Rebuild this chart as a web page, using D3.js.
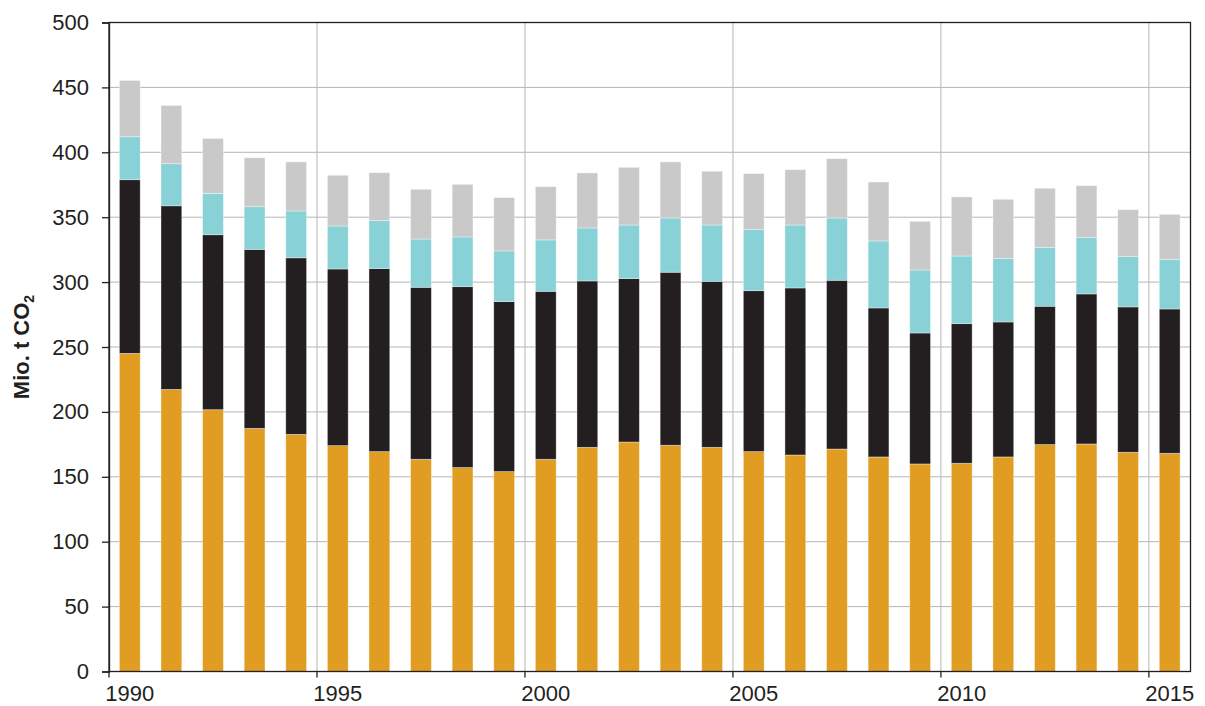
<!DOCTYPE html>
<html>
<head>
<meta charset="utf-8">
<script src="https://cdn.jsdelivr.net/npm/d3@7"></script>
<style>
  html, body { margin: 0; padding: 0; background: #fff; }
  svg { display: block; font-family: "Liberation Sans", Arial, Helvetica, sans-serif; }
</style>
</head>
<body>
<svg id="chart" width="1205" height="706"></svg>
<script>
// Data (Mio. t CO2), stacked bottom to top
const years = [1990,1991,1992,1993,1994,1995,1996,1997,1998,1999,2000,2001,2002,2003,2004,2005,2006,2007,2008,2009,2010,2011,2012,2013,2014,2015];
const seriesKeys = ["orange", "black", "cyan", "gray"];
const seriesOrange = [245.1,217.3,201.7,187.3,182.7,174.0,169.4,163.5,157.1,154.0,163.5,172.7,176.8,174.3,172.7,169.4,166.8,171.4,165.3,159.9,160.4,165.3,174.8,175.3,168.9,168.1];
const seriesBlack  = [133.8,141.5,134.8,137.9,136.0,136.1,141.0,132.5,139.4,131.0,129.4,128.2,125.9,133.3,127.9,124.0,128.7,130.0,114.8,100.9,107.6,104.0,106.6,115.6,112.0,111.2];
const seriesCyan   = [33.1,32.4,31.8,32.9,36.1,33.1,37.0,37.2,38.3,39.0,39.6,40.8,41.3,41.8,43.4,47.0,48.5,48.0,51.6,48.5,52.1,48.8,45.2,43.4,38.7,38.0];
const seriesGray   = [43.4,44.9,42.4,37.7,37.8,39.1,36.9,38.3,40.5,41.1,41.0,42.4,44.4,43.2,41.4,43.2,42.6,45.7,45.4,37.5,45.5,45.7,45.7,40.0,36.2,34.9];
const yTicks = [0,50,100,150,200,250,300,350,400,450,500];
const xTickYears = [1990,1995,2000,2005,2010,2015];

(function () {
const colors = { orange: "#e09d22", black: "#231f20", cyan: "#88d1d6", gray: "#c8c9c8" };

const table = years.map((yr, i) => ({
  year: yr, orange: seriesOrange[i], black: seriesBlack[i], cyan: seriesCyan[i], gray: seriesGray[i]
}));

const svg = d3.select("#chart");
const mLeft = 109, mRight = 1190.5, mTop = 22.5, mBottom = 671.5;

const x = d3.scaleBand().domain(years).range([mLeft, mRight]).paddingInner(0.5).paddingOuter(0.25);
const y = d3.scaleLinear().domain([0, 500]).range([mBottom, mTop]);
const cellLeft = yr => x(yr) - x.bandwidth() / 2;

const axisColor = "#231f20";
const gridColor = "#b5b5b5";

// horizontal grid
svg.append("g").selectAll("line").data(yTicks.filter(t => t > 0 && t < 500)).join("line")
  .attr("x1", mLeft).attr("x2", mRight)
  .attr("y1", d => y(d)).attr("y2", d => y(d))
  .attr("stroke", gridColor).attr("stroke-width", 1);

// vertical grid
svg.append("g").selectAll("line").data(xTickYears.filter(d => d !== 1990)).join("line")
  .attr("x1", d => cellLeft(d)).attr("x2", d => cellLeft(d))
  .attr("y1", mTop).attr("y2", mBottom)
  .attr("stroke", gridColor).attr("stroke-width", 1);

// stacked bars
const stack = d3.stack().keys(seriesKeys)(table);
svg.append("g").selectAll("g").data(stack).join("g")
  .attr("fill", d => colors[d.key])
  .selectAll("rect").data(d => d).join("rect")
  .attr("x", d => x(d.data.year))
  .attr("width", x.bandwidth())
  .attr("y", d => y(d[1]))
  .attr("height", d => y(d[0]) - y(d[1]))
  .attr("stroke", "rgba(255,255,255,0.45)")
  .attr("stroke-width", 0.8);

// frame
svg.append("rect").attr("x", mLeft).attr("y", mTop)
  .attr("width", mRight - mLeft).attr("height", mBottom - mTop)
  .attr("fill", "none").attr("stroke", axisColor).attr("stroke-width", 1.3);

// y axis
const yAxis = d3.axisLeft(y).tickValues(yTicks).tickSize(7).tickPadding(13).tickFormat(d3.format("d"));
const gy = svg.append("g").attr("transform", `translate(${mLeft},0)`).call(yAxis);
gy.select(".domain").attr("stroke", axisColor).attr("stroke-width", 1.3);
gy.selectAll(".tick line").attr("stroke", axisColor).attr("stroke-width", 1.3);
gy.selectAll(".tick text").attr("fill", axisColor).style("font-size", "22px")
  .style("font-family", "'Liberation Sans', Arial, sans-serif");

// x axis: ticks at cell edges, labels centered on bars
const gx = svg.append("g");
gx.selectAll("line").data(xTickYears).join("line")
  .attr("x1", d => cellLeft(d)).attr("x2", d => cellLeft(d))
  .attr("y1", mBottom).attr("y2", mBottom + 6)
  .attr("stroke", axisColor).attr("stroke-width", 1.3);
gx.selectAll("text").data(xTickYears).join("text")
  .attr("x", d => x(d) + x.bandwidth() / 2)
  .attr("y", 701)
  .attr("text-anchor", "middle")
  .attr("fill", axisColor)
  .style("font-size", "22px")
  .text(d => d);

// y label
const yl = svg.append("text")
  .attr("transform", `translate(29, ${(mTop + mBottom) / 2}) rotate(-90)`)
  .attr("text-anchor", "middle")
  .attr("fill", axisColor)
  .style("font-size", "22px")
  .style("font-weight", "bold");
yl.append("tspan").text("Mio. t CO");
yl.append("tspan").attr("dy", 5).style("font-size", "14px").text("2");
})();
</script>
</body>
</html>
